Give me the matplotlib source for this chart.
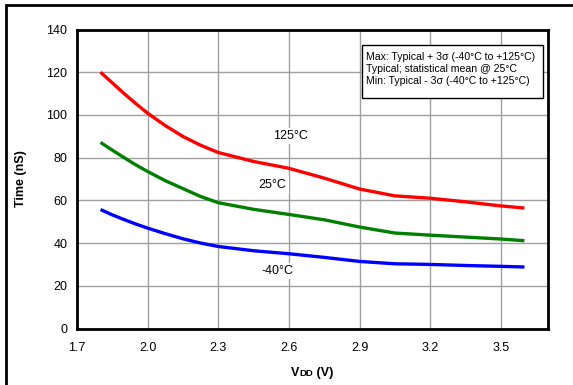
import matplotlib
matplotlib.use("Agg")
import matplotlib.pyplot as plt
from matplotlib.patches import Rectangle
from matplotlib.offsetbox import TextArea, HPacker, AnchoredOffsetbox

plt.rcParams['font.family'] = ['Liberation Sans', 'DejaVu Sans']

vdd = [1.8, 1.85, 1.9, 1.95, 2.0, 2.075, 2.15, 2.225, 2.3, 2.45, 2.6, 2.75, 2.9, 3.05, 3.2, 3.35, 3.5, 3.6]
t_125 = [120.0, 115.0, 110.0, 105.3, 100.8, 95.0, 89.9, 85.8, 82.4, 78.2, 75.0, 70.4, 65.3, 62.1, 61.0, 59.3, 57.4, 56.4]
t_25 = [87.1, 83.5, 80.0, 76.6, 73.5, 69.2, 65.5, 61.8, 58.9, 55.8, 53.4, 50.9, 47.5, 44.7, 43.7, 42.8, 41.9, 41.1]
t_m40 = [55.7, 53.2, 51.0, 48.9, 47.0, 44.4, 42.0, 40.0, 38.4, 36.4, 35.0, 33.3, 31.4, 30.3, 30.0, 29.5, 29.1, 28.8]
series_labels = ["125°C", "25°C", "-40°C"]
series_colors = ["#ff0000", "#008000", "#0000ff"]
label_pos = [(2.605, 90), (2.53, 67), (2.55, 27)]
xticks = [1.7, 2.0, 2.3, 2.6, 2.9, 3.2, 3.5]
yticks = [0, 20, 40, 60, 80, 100, 120, 140]
note_lines = ["Max: Typical + 3σ (-40°C to +125°C)",
              "Typical; statistical mean @ 25°C",
              "Min: Typical - 3σ (-40°C to +125°C)"]

W, H = 573, 385
fig = plt.figure(figsize=(W / 100, H / 100), dpi=100)
ax = fig.add_axes([77 / W, 1 - 328.5 / H, (548 - 77) / W, (328.5 - 29.5) / H])

for ys, c in zip([t_125, t_25, t_m40], series_colors):
    ax.plot(vdd, ys, color=c, lw=2.4, solid_capstyle='butt', solid_joinstyle='round', zorder=3)

for (x, y), s in zip(label_pos, series_labels):
    ax.text(x, y, s, fontsize=9, ha='center', va='center', zorder=2,
            bbox=dict(facecolor='white', edgecolor='none', pad=1.5))

ax.set_xlim(1.7, 3.7)
ax.set_ylim(0, 140)
ax.set_xticks(xticks)
ax.set_xticklabels([f"{v:.1f}" for v in xticks])
ax.set_yticks(yticks)
ax.tick_params(axis='y', length=0, labelsize=9, pad=7)
ax.tick_params(axis='x', length=0, labelsize=9, pad=10)
ax.grid(True, color='#a0a0a0', lw=1)
ax.set_axisbelow(True)
for s in ax.spines.values():
    s.set_linewidth(2)
    s.set_color('black')

ax.set_ylabel("Time (nS)", fontsize=9, fontweight='bold', labelpad=14)

# x label "VDD (V)" with small-caps DD
parts = [TextArea("V", textprops=dict(fontsize=9, fontweight='bold')),
         TextArea("DD", textprops=dict(fontsize=6.8, fontweight='bold')),
         TextArea("\u00a0(V)", textprops=dict(fontsize=9, fontweight='bold'))]
pack = HPacker(children=parts, align='baseline', pad=0, sep=0)
anch = AnchoredOffsetbox(loc='center', child=pack, frameon=False, pad=0, borderpad=0,
                         bbox_to_anchor=(312.5 / W, 1 - 373 / H),
                         bbox_transform=fig.transFigure)
fig.add_artist(anch)

# note box
bx0, by0, bx1, by1 = 361.5, 45.5, 542.5, 97.5
fig.patches.append(Rectangle((bx0 / W, 1 - by1 / H), (bx1 - bx0) / W, (by1 - by0) / H,
                             transform=fig.transFigure, facecolor='white',
                             edgecolor='black', lw=1, zorder=5))
for i, line in enumerate(note_lines):
    fig.text(366 / W, 1 - (57 + 12 * i) / H, line, fontsize=7.6, ha='left', va='center', zorder=6)

# outer frame
fig.patches.append(Rectangle((6 / W, -0.1), 1.2, 1 - 5 / H + 0.1, transform=fig.transFigure,
                             facecolor='none', edgecolor='black', lw=2, zorder=0))

fig.savefig("out.png", dpi=100)
